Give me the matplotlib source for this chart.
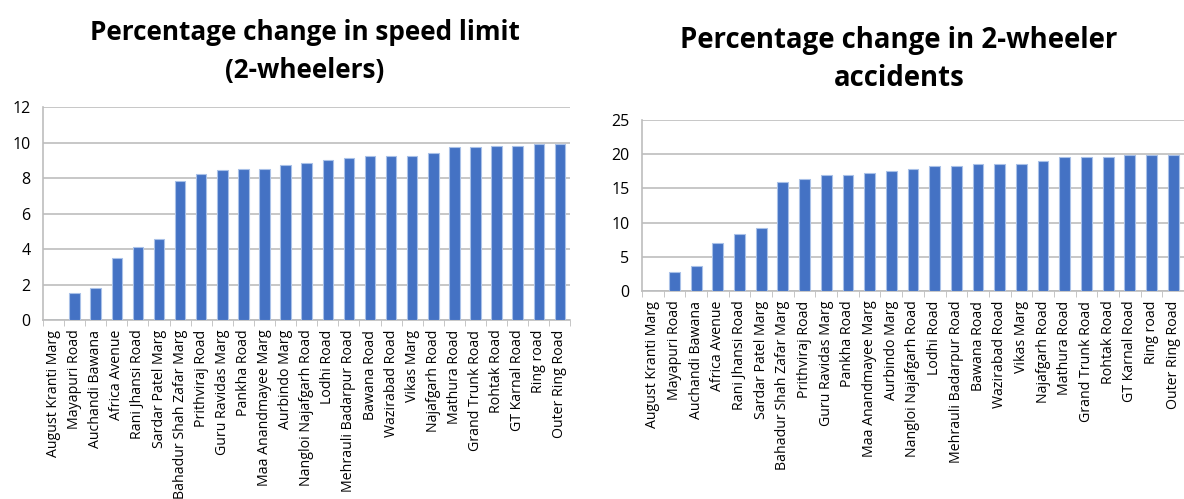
import matplotlib
matplotlib.use("Agg")
import matplotlib.pyplot as plt
import numpy as np

roads = ["August Kranti Marg", "Mayapuri Road", "Auchandi Bawana", "Africa Avenue",
         "Rani Jhansi Road", "Sardar Patel Marg", "Bahadur Shah Zafar Marg",
         "Prithviraj Road", "Guru Ravidas Marg", "Pankha Road", "Maa Anandmayee Marg",
         "Aurbindo Marg", "Nangloi Najafgarh Road", "Lodhi Road", "Mehrauli Badarpur Road",
         "Bawana Road", "Wazirabad Road", "Vikas Marg", "Najafgarh Road", "Mathura Road",
         "Grand Trunk Road", "Rohtak Road", "GT Karnal Road", "Ring road", "Outer Ring Road"]

# % change in speed limit, 2-wheelers
speed_change = [0, 1.5, 1.8, 3.5, 4.15, 4.55, 7.85, 8.25, 8.45, 8.55, 8.55, 8.75, 8.85,
                9.05, 9.15, 9.25, 9.25, 9.25, 9.45, 9.75, 9.75, 9.85, 9.85, 9.95, 9.95]
# % change in 2-wheeler accidents
accident_change = [0, 2.8, 3.6, 7.0, 8.3, 9.2, 15.9, 16.4, 16.9, 16.9, 17.2, 17.5, 17.8,
                   18.3, 18.3, 18.5, 18.5, 18.5, 19.0, 19.6, 19.6, 19.6, 19.9, 19.9, 19.9]

plt.rcParams['font.family'] = ['Open Sans', 'DejaVu Sans']

fig = plt.figure(figsize=(11.84, 4.99), dpi=100)
ax1 = fig.add_axes([0.0363, 0.3587, 0.4455, 0.4259])
ax2 = fig.add_axes([0.5422, 0.4168, 0.4578, 0.3427])

bar_color = "#4472C4"
grid_color = "#BDBDBD"


def draw(ax, values, ymax, step):
    x = np.arange(len(roads))
    ax.bar(x, values, width=0.5, color=bar_color, edgecolor="#A9C1E8", linewidth=0.8, zorder=3)
    ax.set_xlim(-0.5, len(roads) - 0.5)
    ax.set_ylim(0, ymax)
    ax.set_yticks(np.arange(0, ymax + 0.1, step))
    ax.yaxis.grid(True, color=grid_color, linewidth=1.2, zorder=0)
    ax.set_xticks(x)
    ax.set_xticklabels(roads, rotation=90, fontsize=10.2)
    ax.set_xticks(np.arange(-0.5, len(roads)), minor=True)
    ax.tick_params(axis="x", which="major", length=0, pad=7)
    ax.tick_params(axis="x", which="minor", length=4, color=grid_color)
    ax.tick_params(axis="y", length=0, labelsize=11.5, pad=9)
    for s in ["top", "right"]:
        ax.spines[s].set_visible(False)
    ax.spines["left"].set_color(grid_color)
    ax.spines["bottom"].set_color(grid_color)
    ax.spines["left"].set_linewidth(1.2)
    ax.spines["bottom"].set_linewidth(1.2)


draw(ax1, speed_change, 12, 2)
draw(ax2, accident_change, 25, 5)

fig.text(0.2576, 0.897, "Percentage change in speed limit\n(2-wheelers)", ha="center", va="center",
         fontsize=18.8, fontweight="bold", linespacing=1.5)
fig.text(0.7593, 0.881, "Percentage change in 2-wheeler\naccidents", ha="center", va="center",
         fontsize=19.8, fontweight="bold", linespacing=1.38)

fig.savefig("out.png", dpi=100)
